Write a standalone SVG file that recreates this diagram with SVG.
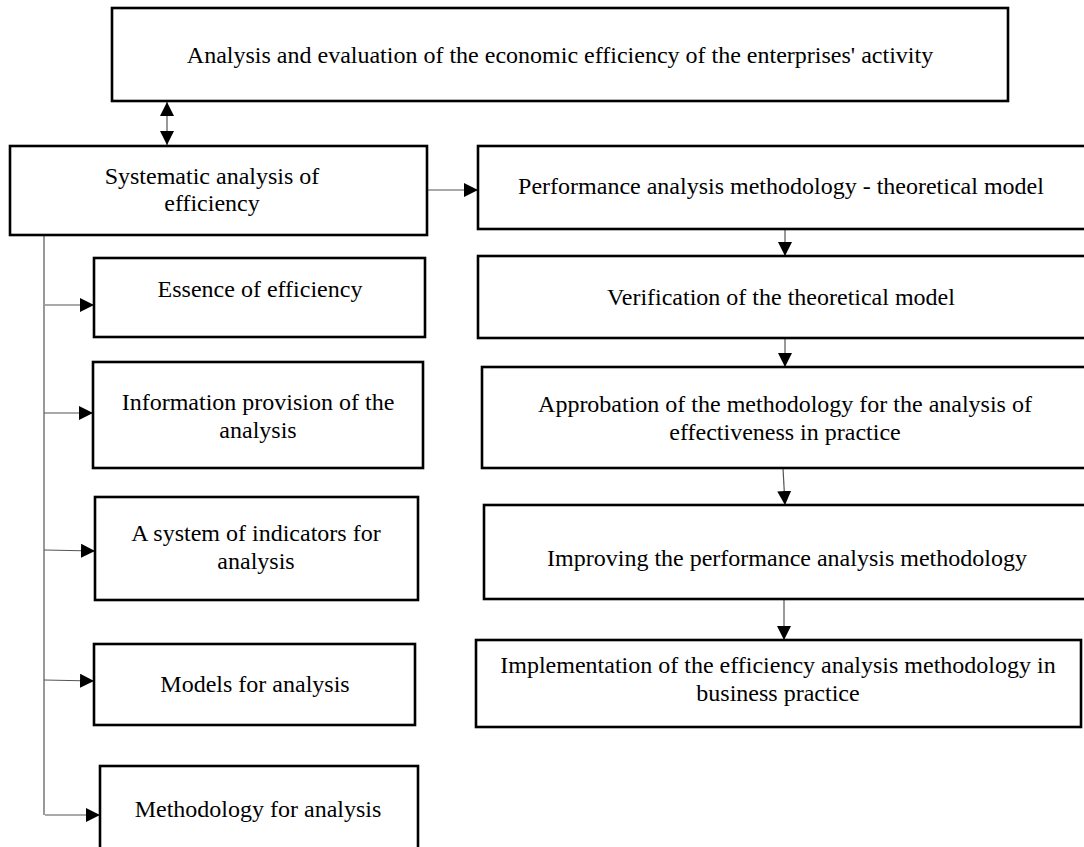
<svg xmlns="http://www.w3.org/2000/svg" width="1084" height="847" viewBox="0 0 1084 847">
<style>
.box{fill:#fff;stroke:#000;stroke-width:2.6}
.t{font-family:"Liberation Serif","Times New Roman",serif;font-size:24px;fill:#000;text-anchor:middle}
.c{stroke:#555;stroke-width:1.2;fill:none}
</style>
<defs>
<marker id="ah" markerUnits="userSpaceOnUse" markerWidth="15" markerHeight="14" refX="14" refY="7" orient="auto-start-reverse">
<path d="M0,0 L14,7 L0,14 z" fill="#000"/>
</marker>
</defs>
<rect width="1084" height="847" fill="#fff"/>
<g id="connectors">
<line class="c" x1="167" y1="102" x2="167" y2="145" marker-start="url(#ah)" marker-end="url(#ah)"/>
<line class="c" x1="427" y1="190" x2="478" y2="190" marker-end="url(#ah)"/>
<line class="c" x1="44" y1="235" x2="44" y2="815"/>
<line class="c" x1="45" y1="305" x2="94" y2="305" marker-end="url(#ah)"/>
<line class="c" x1="44" y1="413" x2="93" y2="413" marker-end="url(#ah)"/>
<line class="c" x1="44" y1="550" x2="95" y2="551" marker-end="url(#ah)"/>
<line class="c" x1="44" y1="680" x2="94" y2="681" marker-end="url(#ah)"/>
<line class="c" x1="45" y1="815" x2="100" y2="815" marker-end="url(#ah)"/>
<line class="c" x1="785" y1="229" x2="785" y2="256" marker-end="url(#ah)"/>
<line class="c" x1="785" y1="338" x2="785" y2="367" marker-end="url(#ah)"/>
<line class="c" x1="783" y1="468" x2="785" y2="505" marker-end="url(#ah)"/>
<line class="c" x1="784" y1="599" x2="784" y2="640" marker-end="url(#ah)"/>
</g>
<g id="n-top">
<rect class="box" x="112" y="8" width="896" height="93"/>
<text class="t" x="560" y="63">Analysis and evaluation of the economic efficiency of the enterprises' activity</text>
</g>
<g id="n-systematic">
<rect class="box" x="10" y="146" width="417" height="89"/>
<text class="t" x="212" y="184">Systematic analysis of</text>
<text class="t" x="212" y="211">efficiency</text>
</g>
<g id="n-performance">
<rect class="box" x="478" y="146" width="620" height="83"/>
<text class="t" x="781" y="194">Performance analysis methodology - theoretical model</text>
</g>
<g id="n-verification">
<rect class="box" x="478" y="256" width="620" height="82"/>
<text class="t" x="781" y="305">Verification of the theoretical model</text>
</g>
<g id="n-approbation">
<rect class="box" x="482" y="367" width="616" height="101"/>
<text class="t" x="785" y="412">Approbation of the methodology for the analysis of</text>
<text class="t" x="785" y="440">effectiveness in practice</text>
</g>
<g id="n-improving">
<rect class="box" x="484" y="505" width="614" height="94"/>
<text class="t" x="787" y="566">Improving the performance analysis methodology</text>
</g>
<g id="n-implementation">
<rect class="box" x="476" y="640" width="605" height="87"/>
<text class="t" x="778" y="673">Implementation of the efficiency analysis methodology in</text>
<text class="t" x="778" y="701">business practice</text>
</g>
<g id="n-essence">
<rect class="box" x="94" y="258" width="331" height="79"/>
<text class="t" x="260" y="297">Essence of efficiency</text>
</g>
<g id="n-information">
<rect class="box" x="93" y="362" width="330" height="106"/>
<text class="t" x="258" y="410">Information provision of the</text>
<text class="t" x="258" y="438">analysis</text>
</g>
<g id="n-indicators">
<rect class="box" x="95" y="497" width="323" height="103"/>
<text class="t" x="256" y="541">A system of indicators for</text>
<text class="t" x="256" y="569">analysis</text>
</g>
<g id="n-models">
<rect class="box" x="94" y="644" width="321" height="81"/>
<text class="t" x="255" y="692">Models for analysis</text>
</g>
<g id="n-methodology">
<rect class="box" x="100" y="766" width="318" height="90"/>
<text class="t" x="258" y="817">Methodology for analysis</text>
</g>
</svg>
